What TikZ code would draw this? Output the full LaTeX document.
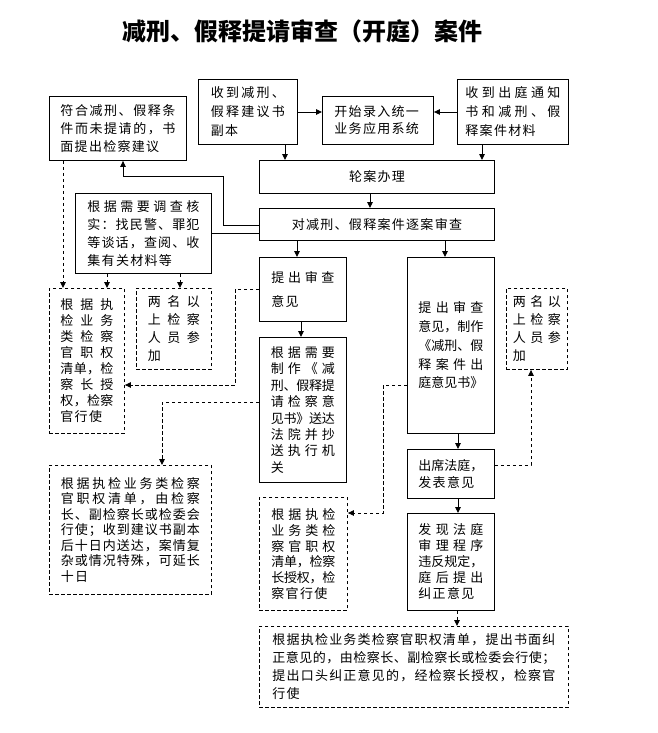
\documentclass[tikz,border=0pt]{standalone}
\usepackage{fontspec}
\usepackage{tikz}
\usetikzlibrary{arrows.meta}
\newfontfamily\cjk[LetterSpace=10]{Noto Sans CJK SC}
\newfontfamily\cjktitle{Noto Sans CJK SC}

% spread one line of characters over the text width
\makeatletter
\def\jl@next#1{\ifx#1\@nil\else\hss#1\expandafter\jl@next\fi}
\def\jl@first#1{#1\jl@next}
\newcommand\jl[1]{\leavevmode\hbox to\hsize{\jl@first#1\@nil}}
\makeatother

\tikzset{
  box/.style={draw, line width=0.9pt, anchor=north west, inner sep=0pt, align=left,
    font=\cjk\fontsize{13}{18}\selectfont},
  dbox/.style={box, dash pattern=on 3.5pt off 2.5pt},
  lh/.style={font=\cjk\fontsize{13}{#1}\selectfont},
  arr/.style={line width=0.9pt, -{Triangle[length=6pt,width=5.5pt]}},
  darr/.style={arr, dash pattern=on 3.5pt off 2.5pt},
}

\begin{document}
\begin{tikzpicture}[x=1pt,y=-1pt]

\useasboundingbox (0,0) rectangle (657,733);

\node[font=\cjktitle\bfseries\fontsize{24}{28}\selectfont] (title) at (302,31) {减刑、假释提请审查（开庭）案件};

% top row
\node[box, minimum width=137pt, minimum height=64pt, text width=115pt] (jianyi) at (49,96)
  {\jl{符合减刑、假释条}\\\jl{件而未提请的，书}\\面提出检察建议};
\node[box, lh=19, minimum width=99pt, minimum height=65pt, text width=74pt] (shoudao) at (198,79)
  {\jl{收到减刑、}\\\jl{假释建议书}\\副本};
\node[box, lh=17, minimum width=111pt, minimum height=48pt, text width=87pt] (luru) at (322,96)
  {开始录入统一\\业务应用系统};
\node[box, lh=19, minimum width=111pt, minimum height=65pt, text width=95pt] (tongzhi) at (457,79)
  {\jl{收到出庭通知}\\\jl{书和减刑、假}\\释案件材料};

\node[box, minimum width=235pt, minimum height=33pt] (lunan) at (259,160) {轮案办理};
\node[box, minimum width=235pt, minimum height=32pt] (shencha) at (259,208) {对减刑、假释案件逐案审查};

% left column
\node[box, minimum width=136pt, minimum height=80pt, text width=112pt] (diaocha) at (75,193)
  {\jl{根据需要调查核}\\\jl{实：找民警、罪犯}\\\jl{等谈话，查阅、收}\\集有关材料等};
\node[dbox, lh=16, minimum width=75pt, minimum height=145pt, text width=53pt] (quanA) at (49,288)
  {\jl{根据执}\\\jl{检业务}\\\jl{类检察}\\\jl{官职权}\\\jl{清单，检}\\\jl{察长授}\\\jl{权，检察}\\官行使};
\node[dbox, minimum width=75pt, minimum height=81pt, text width=52pt] (renA) at (136,288)
  {\jl{两名以}\\\jl{上检察}\\\jl{人员参}\\加};
\node[dbox, lh=15.5, minimum width=162pt, minimum height=129pt, text width=139pt] (songda) at (49,465)
  {\jl{根据执检业务类检察}\\\jl{官职权清单，由检察}\\\jl{长、副检察长或检委会}\\\jl{行使；收到建议书副本}\\\jl{后十日内送达，案情复}\\\jl{杂或情况特殊，可延长}\\十日};

% middle column
\node[box, lh=24, minimum width=87pt, minimum height=64pt, text width=63pt] (tichu) at (259,257)
  {\jl{提出审查}\\意见};
\node[box, lh=16.4, minimum width=87pt, minimum height=145pt, text width=64pt] (tiqing) at (259,337)
  {\jl{根据需要}\\\jl{制作《减}\\\jl{刑、假释提}\\\jl{请检察意}\\\jl{见书》送达}\\\jl{法院并抄}\\\jl{送执行机}\\关};
\node[dbox, lh=15.7, minimum width=88pt, minimum height=113pt, text width=64pt] (quanB) at (259,497)
  {\jl{根据执检}\\\jl{业务类检}\\\jl{察官职权}\\\jl{清单，检察}\\\jl{长授权，检}\\察官行使};

% right column
\node[box, lh=18.7, minimum width=87pt, minimum height=176pt, text width=65pt] (chuting) at (407,257)
  {\jl{提出审查}\\\jl{意见，制作}\\\jl{《减刑、假}\\\jl{释案件出}\\\jl{庭意见书》}};
\node[dbox, minimum width=61pt, minimum height=81pt, text width=48pt] (renB) at (506,288)
  {\jl{两名以}\\\jl{上检察}\\\jl{人员参}\\加};
\node[box, lh=17, minimum width=87pt, minimum height=49pt, text width=65pt] (fabiao) at (407,449)
  {\jl{出席法庭，}\\发表意见};
\node[box, lh=16, minimum width=87pt, minimum height=97pt, text width=65pt] (jiuzheng) at (407,513)
  {\jl{发现法庭}\\\jl{审理程序}\\\jl{违反规定，}\\\jl{庭后提出}\\纠正意见};
\node[dbox, minimum width=309pt, minimum height=81pt, text width=283pt] (shumian) at (259,626)
  {\jl{根据执检业务类检察官职权清单，提出书面纠}\\\jl{正意见的，由检察长、副检察长或检委会行使；}\\\jl{提出口头纠正意见的，经检察长授权，检察官}\\行使};

% solid connectors
\draw[arr] (shoudao.east |- 0,112) -- (luru.west |- 0,112);
\draw[arr] (tongzhi.west |- 0,112) -- (luru.east |- 0,112);
\draw[arr] (shoudao.south -| 285,0) -- (lunan.north -| 285,0);
\draw[arr] (tongzhi.south -| 482,0) -- (lunan.north -| 482,0);
\draw[arr] (lunan.south -| 370,0) -- (shencha.north -| 370,0);
\draw[arr] (shencha.south -| 297,0) -- (tichu.north -| 297,0);
\draw[arr] (shencha.south -| 445,0) -- (chuting.north -| 445,0);
\draw[arr] (shencha.west |- 0,225) -| (223,176) -| (jianyi.south -| 123,0);
\draw[line width=0.9pt] (diaocha.east |- 0,233) -- (shencha.west |- 0,233);
\draw[arr] (tichu.south -| 301,0) -- (tiqing.north -| 301,0);
\draw[arr] (chuting.south -| 458,0) -- (fabiao.north -| 458,0);
\draw[arr] (fabiao.south -| 458,0) -- (jiuzheng.north -| 458,0);

% dashed connectors
\draw[darr] (jianyi.south -| 63,0) -- (quanA.north -| 63,0);
\draw[darr] (diaocha.south -| 107,0) -- (quanA.north -| 107,0);
\draw[darr] (diaocha.south -| 180,0) -- (renA.north -| 180,0);
\draw[darr] (tichu.west) -| (235,385) -- (quanA.east |- 0,385);
\draw[darr] (tiqing.west |- 0,402) -| (songda.north -| 162,0);
\draw[darr] (chuting.west |- 0,385) -| (383,513) -- (quanB.east |- 0,513);
\draw[darr] (fabiao.east |- 0,465) -| (renB.south -| 531,0);
\draw[darr] (jiuzheng.south -| 457,0) -- (shumian.north -| 457,0);

\end{tikzpicture}
\end{document}
